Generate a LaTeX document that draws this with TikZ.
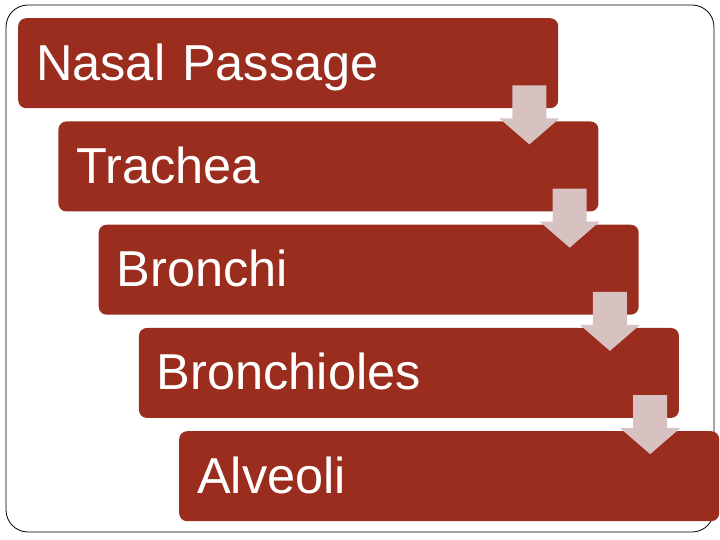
\documentclass[tikz,border=0pt]{standalone}
\usepackage{fontspec}
\setmainfont{Liberation Sans}
\definecolor{stagered}{HTML}{9B2D1F}
\definecolor{flowpink}{HTML}{D7C1C1}
\begin{document}
\begin{tikzpicture}[x=1pt, y=-1pt, line join=round, line cap=round,
	stage/.style={rectangle, rounded corners=8pt, fill=stagered, text=white, anchor=north west,
		minimum width=540pt, minimum height=90pt, text width=504pt, inner xsep=18pt, inner ysep=0pt,
		align=left, text height=40pt, text depth=6pt, font=\fontsize{50.5}{60}\selectfont},
	flow/.style={fill=flowpink, draw=none}]
	\useasboundingbox (0,0) rectangle (720,540);
	\draw[rounded corners=22pt, line width=0.8pt] (6,5) rectangle (714,532);
	% the five stages
	\foreach \name/\txt [count=\i from 0] in {nasal/Nasal Passage, trachea/Trachea, bronchi/Bronchi, bronchioles/Bronchioles, alveoli/Alveoli}
		\node[stage] (\name) at ({18+40.25*\i},{18+103.25*\i}) {\txt};
	% block arrows between them
	\foreach \a in {nasal,trachea,bronchi,bronchioles}
		\fill[flow, shift={(\a.south east)}] (-46,-23) -- (-12,-23) -- (-12,10) -- (1,10) -- (-29,36) -- (-59,10) -- (-46,10) -- cycle;
\end{tikzpicture}
\end{document}
